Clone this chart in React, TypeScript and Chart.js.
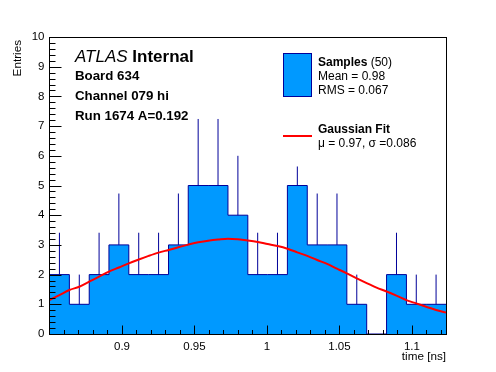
import React, { useEffect, useRef } from 'react';
import { Chart, registerables } from 'chart.js';
Chart.register(...registerables);

// Histogram bin edges (ns) and bin contents
const binEdges = [0.85, 0.8637, 0.8774, 0.891, 0.9047, 0.9184, 0.9321, 0.9457, 0.9594, 0.9731, 0.9868,
  1.0004, 1.0141, 1.0278, 1.0415, 1.0551, 1.0688, 1.0825, 1.0962, 1.1098, 1.1235];
const counts = [2, 1, 2, 3, 2, 2, 3, 5, 5, 4, 2, 2, 5, 3, 3, 1, 0, 2, 1, 1];
// upper end of each error bar
const errorTops = [3.41, 2, 3.41, 4.73, 3.41, 3.41, 4.73, 7.24, 7.24, 6, 3.41, 3.41, 5.64, 4.73, 4.73, 2, 0, 3.41, 2, 2];

// Gaussian fit curve samples
const fitX = [0.85, 0.8568, 0.8637, 0.8705, 0.8774, 0.8842, 0.891, 0.8979, 0.9047, 0.9116, 0.9184, 0.9252,
  0.9321, 0.9389, 0.9457, 0.9526, 0.9594, 0.9663, 0.9731, 0.9799, 0.9868, 0.9936, 1.0004, 1.0073, 1.0141,
  1.0209, 1.0278, 1.0346, 1.0415, 1.0483, 1.0551, 1.062, 1.0688, 1.0756, 1.0825, 1.0893, 1.0962, 1.103,
  1.1098, 1.1167, 1.1235];
const fitY = [1.145, 1.31, 1.48, 1.59, 1.76, 1.93, 2.1, 2.24, 2.38, 2.51, 2.63, 2.74, 2.83, 2.92, 3.01,
  3.09, 3.14, 3.18, 3.21, 3.19, 3.15, 3.1, 3.03, 2.96, 2.87, 2.75, 2.63, 2.49, 2.36, 2.2, 2.04, 1.87,
  1.71, 1.56, 1.43, 1.29, 1.14, 1.03, 0.92, 0.81, 0.72];

const xMajorTicks = [0.9, 0.95, 1, 1.05, 1.1];
const yMajorTicks = [0, 1, 2, 3, 4, 5, 6, 7, 8, 9, 10];
const X_MIN = 0.85;
const X_MAX = 1.1235;

const FILL = 'rgb(0,153,255)';
const NAVY = 'rgb(0,0,153)';
const FONT = '"Liberation Sans", Arial, Helvetica, sans-serif';

const decorPlugin = {
  id: 'decor',
  afterDraw(chart: any) {
    const { ctx, chartArea, scales } = chart;
    const { left, right, top, bottom } = chartArea;
    const xs = scales.x;
    const ys = scales.y;
    ctx.save();
    ctx.strokeStyle = '#000';
    ctx.lineWidth = 1;
    const L = Math.floor(left) + 0.5;
    const T = Math.floor(top) + 0.5;
    const R = Math.floor(right) + 0.5;
    const B = Math.floor(bottom) + 0.5;
    ctx.strokeRect(L, T, R - L, B - T);
    ctx.beginPath();
    // y ticks
    for (let i = 0; i <= 50; i++) {
      const v = i * 0.2;
      const py = Math.round(ys.getPixelForValue(v)) + 0.5;
      const len = i % 5 === 0 ? 12 : 6;
      ctx.moveTo(L, py);
      ctx.lineTo(L + len, py);
    }
    // x ticks
    for (let i = 86; i <= 112; i++) {
      const v = i / 100;
      const px = Math.round(xs.getPixelForValue(v)) + 0.5;
      const len = i % 5 === 0 ? 9 : 4.5;
      ctx.moveTo(px, B);
      ctx.lineTo(px, B - len);
    }
    ctx.stroke();

    ctx.fillStyle = '#000';
    // axis titles
    ctx.font = `11.7px ${FONT}`;
    ctx.textAlign = 'right';
    ctx.textBaseline = 'alphabetic';
    ctx.fillText('time [ns]', 446, 360);
    ctx.save();
    ctx.translate(21, 40);
    ctx.rotate(-Math.PI / 2);
    ctx.textAlign = 'right';
    ctx.fillText('Entries', 0, 0);
    ctx.restore();

    // ATLAS label
    ctx.textAlign = 'left';
    ctx.font = `italic 17px ${FONT}`;
    ctx.fillText('ATLAS', 75, 62);
    const w = ctx.measureText('ATLAS ').width;
    ctx.font = `bold 17px ${FONT}`;
    ctx.fillText('Internal', 75 + w, 62);
    ctx.font = `bold 13.3px ${FONT}`;
    ctx.fillText('Board 634', 75, 80);
    ctx.fillText('Channel 079 hi', 75, 100);
    ctx.fillText('Run 1674 A=0.192', 75, 120);

    // legend
    ctx.fillStyle = FILL;
    ctx.fillRect(283.5, 53.5, 28, 43);
    ctx.strokeStyle = NAVY;
    ctx.strokeRect(283.5, 53.5, 28, 43);
    ctx.fillStyle = '#000';
    ctx.font = `bold 12px ${FONT}`;
    ctx.fillText('Samples', 318, 66);
    const ws = ctx.measureText('Samples ').width;
    ctx.font = `12px ${FONT}`;
    ctx.fillText('(50)', 318 + ws, 66);
    ctx.fillText('Mean = 0.98', 318, 80);
    ctx.fillText('RMS = 0.067', 318, 94);
    ctx.strokeStyle = 'rgb(255,0,0)';
    ctx.lineWidth = 2;
    ctx.beginPath();
    ctx.moveTo(283, 136);
    ctx.lineTo(312, 136);
    ctx.stroke();
    ctx.font = `bold 12px ${FONT}`;
    ctx.fillText('Gaussian Fit', 318, 133);
    ctx.font = `12px ${FONT}`;
    ctx.fillText('\u03bc = 0.97, \u03c3 =0.086', 318, 147);
    ctx.restore();
  },
};

export default function App() {
  const ref = useRef<HTMLCanvasElement>(null);
  useEffect(() => {
    const canvas = ref.current;
    if (!canvas) return;
    const histData = binEdges.map((x, i) => ({ x, y: counts[Math.min(i, counts.length - 1)] }));
    const errData: any[] = [];
    counts.forEach((n, i) => {
      if (n <= 0) return;
      const c = (binEdges[i] + binEdges[i + 1]) / 2;
      errData.push({ x: c, y: n }, { x: c, y: errorTops[i] }, { x: c, y: null });
    });
    const fitData = fitX.map((x, i) => ({ x, y: fitY[i] }));
    const tickFont = { family: FONT, size: 11.5 };
    const chart = new Chart(canvas, {
      type: 'line',
      data: {
        datasets: [
          {
            label: 'Gaussian Fit',
            data: fitData,
            borderColor: 'rgb(255,0,0)',
            borderWidth: 2,
            pointRadius: 0,
            fill: false,
            cubicInterpolationMode: 'monotone',
            order: 0,
          },
          {
            label: 'errors',
            data: errData,
            borderColor: NAVY,
            borderWidth: 1,
            pointRadius: 0,
            fill: false,
            spanGaps: false,
            order: 1,
          },
          {
            label: 'Samples',
            data: histData,
            stepped: true,
            borderColor: NAVY,
            borderWidth: 1,
            backgroundColor: FILL,
            pointRadius: 0,
            fill: 'origin',
            order: 2,
          },
        ],
      } as any,
      options: {
        animation: false,
        responsive: false,
        devicePixelRatio: 1,
        layout: { padding: { top: 37, right: 50, left: 0, bottom: 0 } },
        plugins: { legend: { display: false }, tooltip: { enabled: false } },
        events: [],
        scales: {
          x: {
            type: 'linear',
            min: X_MIN,
            max: X_MAX,
            grid: { display: false, drawTicks: false },
            border: { display: false },
            ticks: {
              font: tickFont,
              color: '#000',
              padding: 6,
              maxRotation: 0,
              autoSkip: false,
              callback: (v: any) => String(Math.round(Number(v) * 100) / 100),
            },
            afterBuildTicks: (s: any) => {
              s.ticks = xMajorTicks.map((v) => ({ value: v }));
            },
            afterFit: (s: any) => {
              s.height = 38;
            },
          },
          y: {
            type: 'linear',
            min: 0,
            max: 10,
            grid: { display: false, drawTicks: false },
            border: { display: false },
            ticks: { font: tickFont, color: '#000', padding: 5 },
            afterBuildTicks: (s: any) => {
              s.ticks = yMajorTicks.map((v) => ({ value: v }));
            },
            afterFit: (s: any) => {
              s.width = 49.5;
            },
          },
        },
      } as any,
      plugins: [decorPlugin],
    });
    return () => chart.destroy();
  }, []);
  return (
    <div style={{ position: 'absolute', left: 0, top: 0, width: 496, height: 372, background: '#fff' }}>
      <canvas ref={ref} width={496} height={372} style={{ display: 'block' }} />
    </div>
  );
}
